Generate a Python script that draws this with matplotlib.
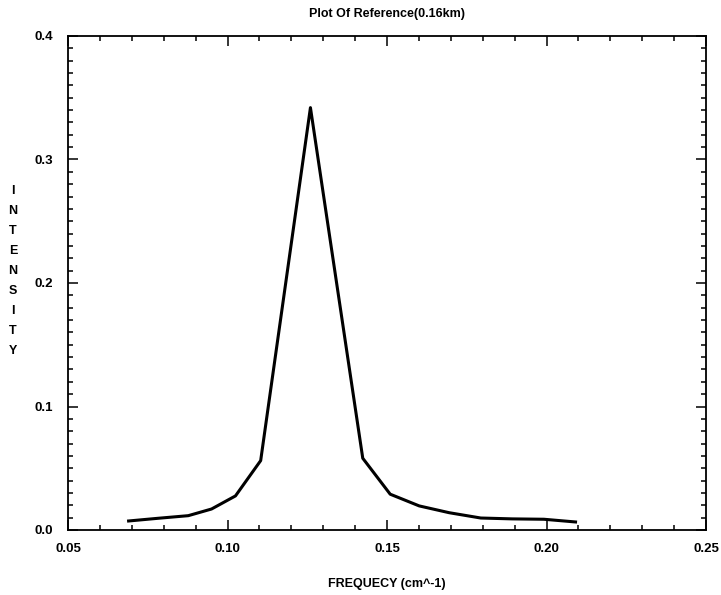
import numpy as np
import matplotlib
matplotlib.use("Agg")
import matplotlib.pyplot as plt
from matplotlib.ticker import MultipleLocator, FormatStrFormatter

# Spectrum
frequency = [0.0690, 0.0783, 0.0877, 0.0950, 0.1025, 0.1104, 0.1260,
             0.1424, 0.1510, 0.1601, 0.1695, 0.1794, 0.1893, 0.1992, 0.2091]
intensity = [0.0073, 0.0095, 0.0116, 0.0170, 0.0276, 0.0562, 0.3420,
             0.0581, 0.0290, 0.0195, 0.0140, 0.0097, 0.0090, 0.0087, 0.0065]

title = "Plot Of Reference(0.16km)"
xlabel = "FREQUECY (cm^-1)"
ylabel = "INTENSITY"

plt.rcParams['font.family'] = ['Liberation Sans', 'DejaVu Sans']

fig = plt.figure(figsize=(7.21, 5.95), dpi=100)
ax = fig.add_axes([68 / 721, 65 / 595, 638 / 721, 494 / 595])

ax.plot(frequency, intensity, color='black', lw=2.2)

ax.set_xlim(0.05, 0.25)
ax.set_ylim(0.0, 0.4)
ax.xaxis.set_major_locator(MultipleLocator(0.05))
ax.xaxis.set_minor_locator(MultipleLocator(0.01))
ax.yaxis.set_major_locator(MultipleLocator(0.1))
ax.yaxis.set_minor_locator(MultipleLocator(0.01))
ax.xaxis.set_major_formatter(FormatStrFormatter('%.2f'))
ax.yaxis.set_major_formatter(FormatStrFormatter('%.1f'))

# IDL-style ticks: inward on all four sides
ax.tick_params(which='both', direction='in', top=True, right=True, width=1.1)
ax.tick_params(which='major', length=7.5)
ax.tick_params(which='minor', length=3.5)
ax.tick_params(axis='x', which='major', pad=9, labelsize=9.5)
ax.tick_params(axis='y', which='major', pad=11, labelsize=9.5)
for lab in ax.get_xticklabels() + ax.get_yticklabels():
    lab.set_fontweight('bold')

for sp in ax.spines.values():
    sp.set_linewidth(1.3)

ax.set_title(title, fontsize=9, fontweight='bold', pad=14)
ax.set_xlabel(xlabel, fontsize=9, fontweight='bold', labelpad=17)
# stacked vertical letters for the y label
fig.text(13 / 721, 1 - 271 / 595, "\n".join(ylabel), fontsize=9, fontweight='bold',
         ha='center', va='center', linespacing=1.88)

fig.savefig("out.png", dpi=100)
